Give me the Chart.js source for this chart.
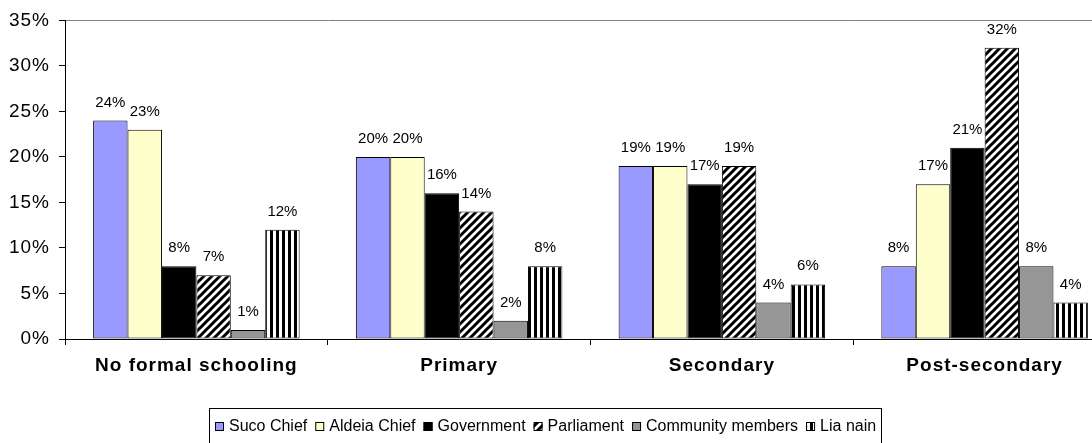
<!DOCTYPE html>
<html>
<head>
<meta charset="utf-8">
<style>
  html, body { margin: 0; padding: 0; background: #fff; overflow: hidden; }
  #wrap { width: 1092px; height: 443px; overflow: hidden; }
</style>
<script src="https://cdn.jsdelivr.net/npm/chart.js@4.4.1/dist/chart.umd.min.js"></script>
</head>
<body>
<div id="wrap"><canvas id="chart" width="1120" height="443"></canvas></div>
<script>
// categories and values (percent)
const categories = ["No formal schooling", "Primary", "Secondary", "Post-secondary"];
const sucoChief = [24, 20, 19, 8];
const aldeiaChief = [23, 20, 19, 17];
const government = [8, 16, 17, 21];
const parliament = [7, 14, 19, 32];
const communityMembers = [1, 2, 4, 8];
const liaNain = [12, 8, 6, 4];
const yTicks = [0, 5, 10, 15, 20, 25, 30, 35];

const FONT = '"Liberation Sans", Arial, sans-serif';
Chart.defaults.font.family = FONT;
Chart.defaults.color = "#000";

// hatch fills
function diagonalPattern() {
  const c = document.createElement("canvas");
  c.width = 8; c.height = 8;
  const g = c.getContext("2d");
  g.fillStyle = "#fff";
  g.fillRect(0, 0, 8, 8);
  g.strokeStyle = "#000";
  g.lineWidth = 3;
  g.beginPath();
  g.moveTo(-2, 10); g.lineTo(10, -2);
  g.moveTo(-6, 6); g.lineTo(6, -6);
  g.moveTo(2, 14); g.lineTo(14, 2);
  g.stroke();
  return g.createPattern(c, "repeat");
}

function verticalPattern() {
  const c = document.createElement("canvas");
  c.width = 6; c.height = 6;
  const g = c.getContext("2d");
  g.fillStyle = "#fff";
  g.fillRect(0, 0, 6, 6);
  g.fillStyle = "#000";
  g.fillRect(0, 0, 3, 6);
  return g.createPattern(c, "repeat");
}

const series = [
  { label: "Suco Chief", data: sucoChief, fill: "#9999ff" },
  { label: "Aldeia Chief", data: aldeiaChief, fill: "#ffffcc" },
  { label: "Government", data: government, fill: "#000000" },
  { label: "Parliament", data: parliament, fill: diagonalPattern() },
  { label: "Community members", data: communityMembers, fill: "#969696" },
  { label: "Lia nain", data: liaNain, fill: verticalPattern() },
];

// value labels above bars
const valueLabels = {
  id: "valueLabels",
  afterDatasetsDraw(chart) {
    const ctx = chart.ctx;
    ctx.save();
    ctx.font = "15px " + FONT;
    ctx.fillStyle = "#000";
    ctx.textAlign = "center";
    ctx.textBaseline = "alphabetic";
    chart.data.datasets.forEach((ds, i) => {
      chart.getDatasetMeta(i).data.forEach((bar, j) => {
        ctx.fillText(ds.data[j] + "%", bar.x, bar.y - 14);
      });
    });
    ctx.restore();
  },
};

// wider letters on axis labels, like the original
const axisSpacing = {
  id: "axisSpacing",
  beforeDraw(chart) { chart.ctx.letterSpacing = "1px"; },
  beforeDatasetsDraw(chart) { chart.ctx.letterSpacing = "0px"; },
};

// boxed legend centred in the window
const boxLegend = {
  id: "boxLegend",
  afterDraw(chart) {
    const ctx = chart.ctx;
    ctx.save();
    ctx.font = "16px " + FONT;
    const box = 9, gapBox = 5, gapItem = 8;
    const items = chart.data.datasets.map(ds => ({
      label: ds.label, fill: ds.backgroundColor, w: ctx.measureText(ds.label).width,
    }));
    const total = items.reduce((s, it) => s + box + gapBox + it.w, 0) + gapItem * (items.length - 1);
    let x = Math.round(546 - total / 2);
    const base = 431;
    ctx.strokeStyle = "#000";
    ctx.lineWidth = 1;
    ctx.strokeRect(x - 5.5, 408.5, Math.round(total) + 11, 40);
    ctx.textBaseline = "alphabetic";
    ctx.textAlign = "left";
    items.forEach(it => {
      ctx.fillStyle = it.fill;
      ctx.fillRect(x, base - box, box, box);
      ctx.strokeRect(x + 0.5, base - box + 0.5, box - 1, box - 1);
      ctx.fillStyle = "#000";
      ctx.fillText(it.label, x + box + gapBox, base);
      x += box + gapBox + it.w + gapItem;
    });
    ctx.restore();
  },
};

new Chart(document.getElementById("chart"), {
  type: "bar",
  data: {
    labels: categories,
    datasets: series.map(s => ({
      label: s.label,
      data: s.data,
      backgroundColor: s.fill,
      borderColor: "#000",
      borderWidth: 1,
      borderSkipped: false,
      categoryPercentage: 0.786,
      barPercentage: 1.0,
    })),
  },
  options: {
    responsive: false,
    devicePixelRatio: 1,
    animation: false,
    layout: { padding: { top: 20, right: 4, bottom: 0, left: 0 } },
    plugins: {
      legend: { display: false },
      tooltip: { enabled: false },
    },
    scales: {
      x: {
        ticks: { color: "#000", font: { size: 19, weight: "bold" }, padding: 9 },
        grid: { offset: true, drawOnChartArea: false, tickColor: "#000", tickLength: 6 },
        border: { color: "#000" },
        afterFit(scale) { scale.height = 104; },
      },
      y: {
        min: 0,
        max: 35,
        afterBuildTicks(scale) { scale.ticks = yTicks.map(v => ({ value: v })); },
        ticks: { color: "#000", font: { size: 19 }, padding: 9, callback: v => v + "%" },
        grid: {
          drawOnChartArea: true,
          color: c => (c.tick && c.tick.value === 35 ? "#808080" : "rgba(0,0,0,0)"),
          tickColor: "#000",
          tickLength: 6,
        },
        border: { color: "#000" },
        afterFit(scale) { scale.width = 65; },
      },
    },
  },
  plugins: [valueLabels, axisSpacing, boxLegend],
});
</script>
</body>
</html>
